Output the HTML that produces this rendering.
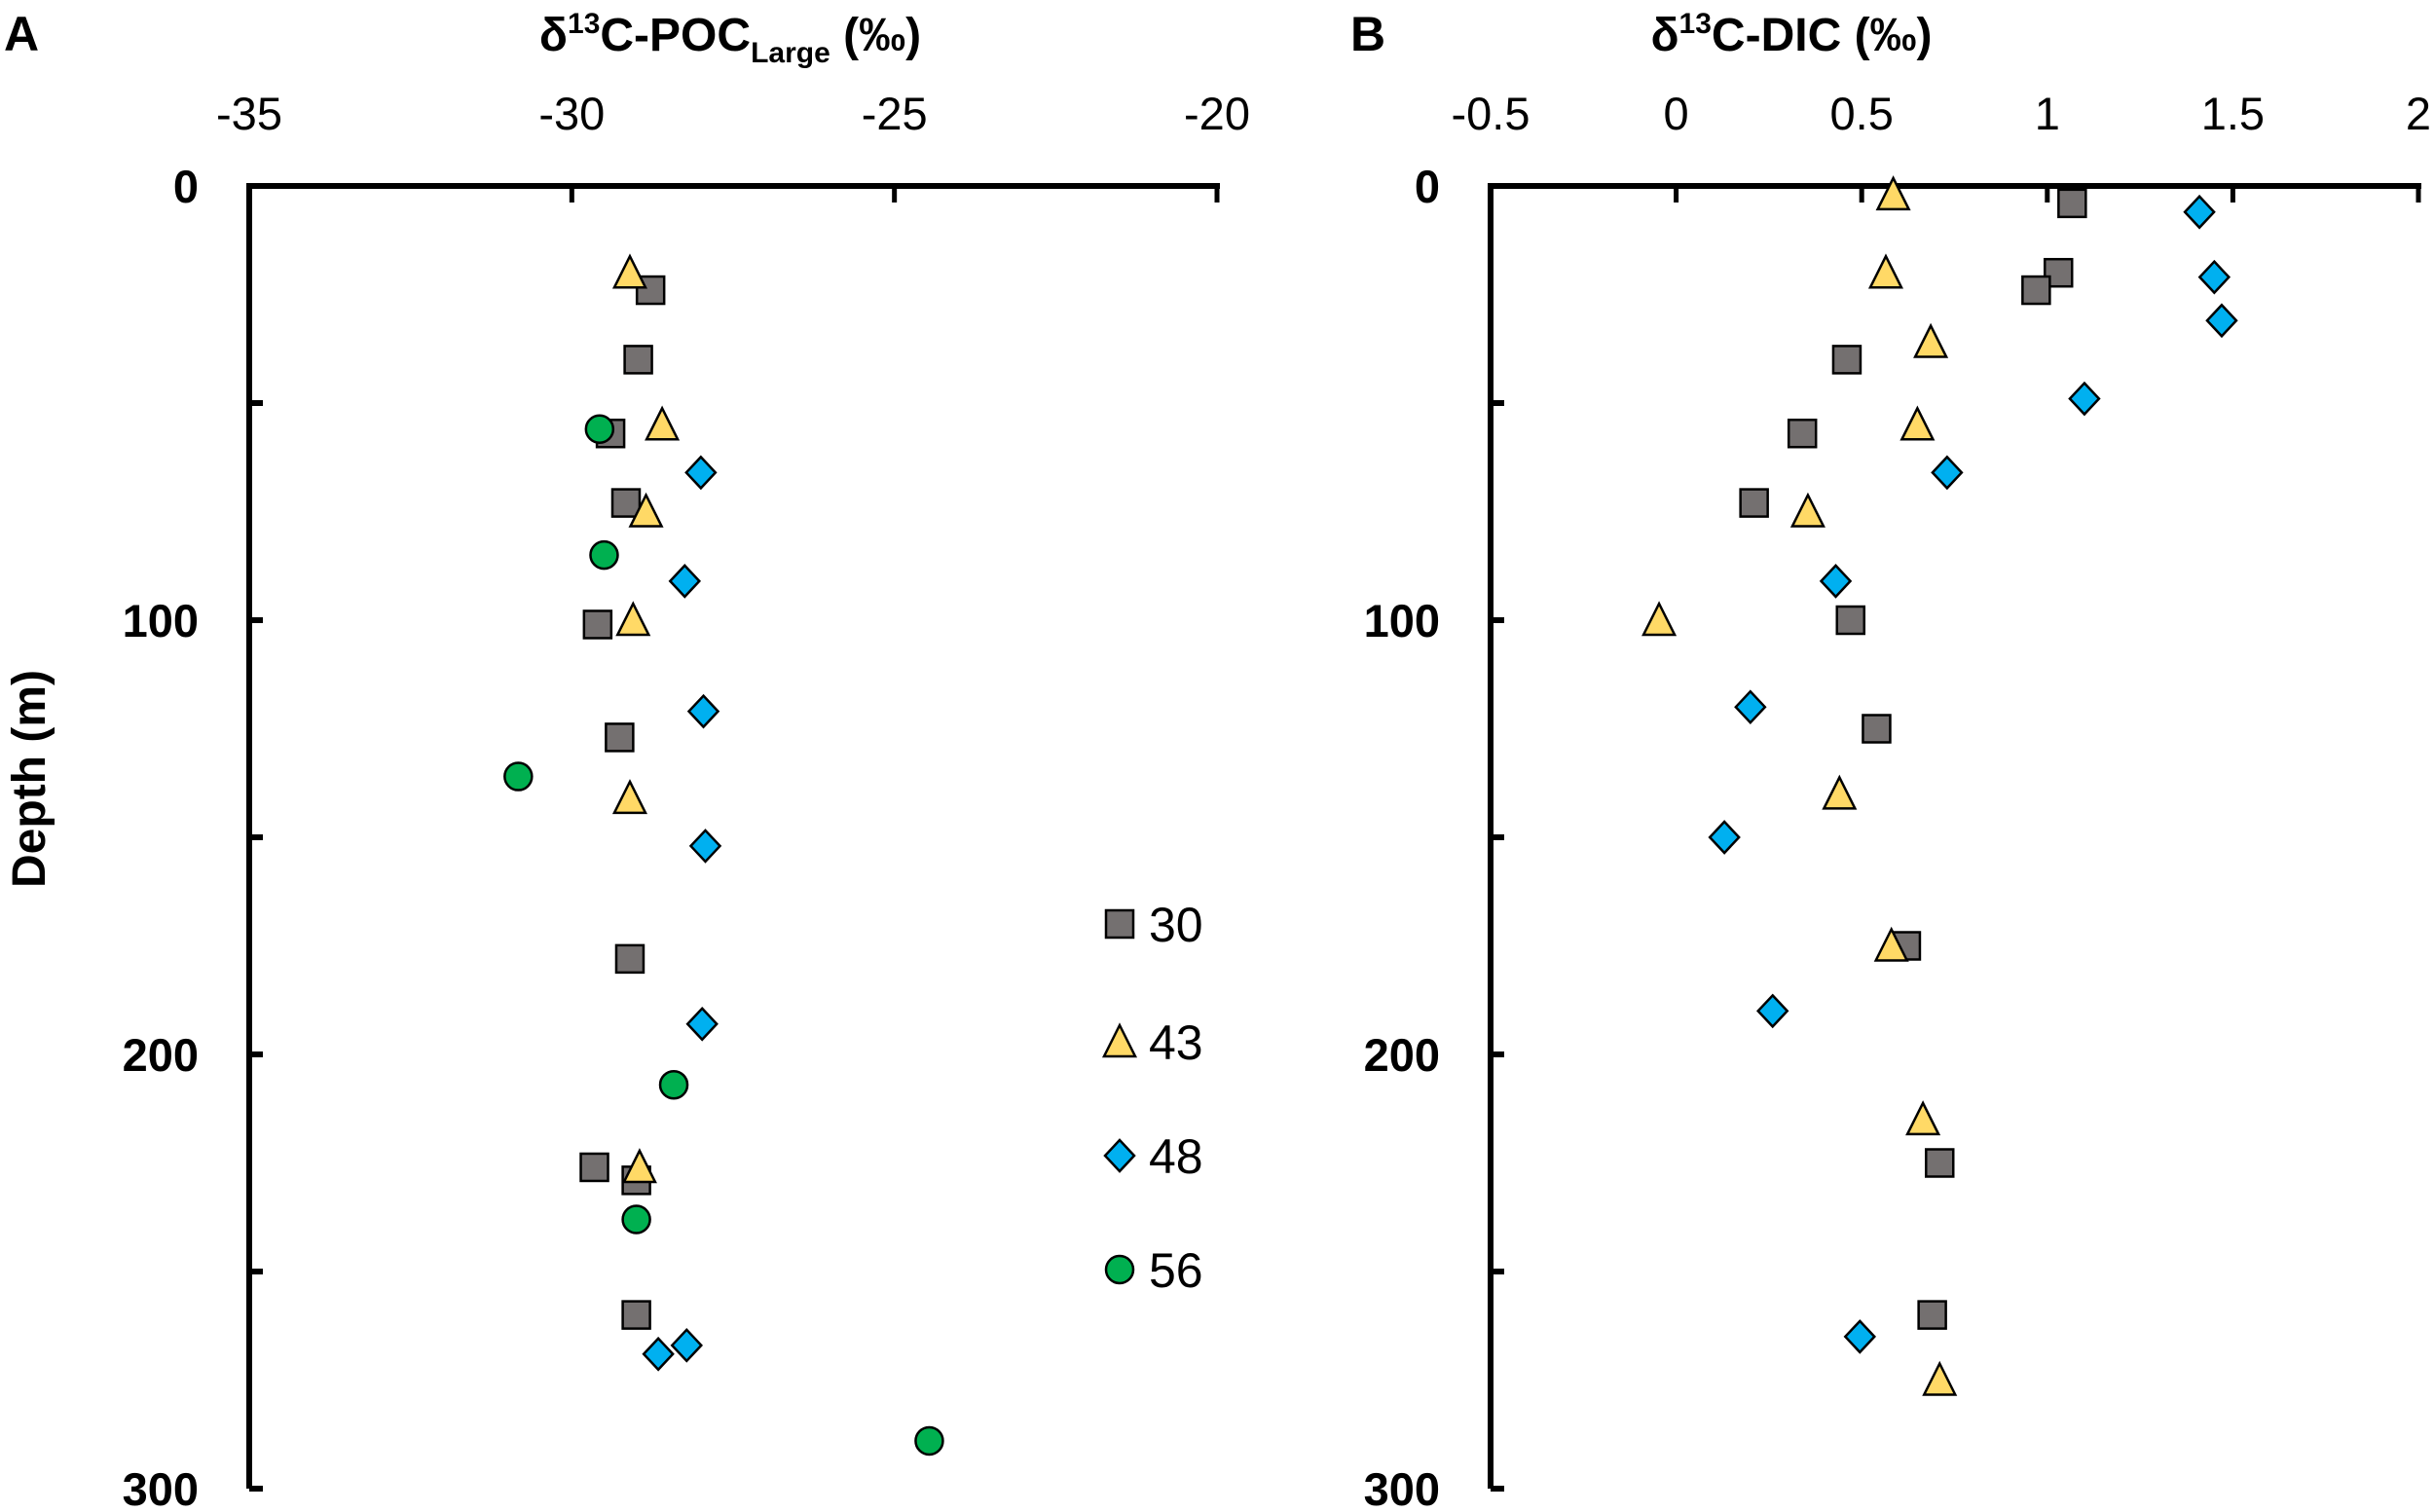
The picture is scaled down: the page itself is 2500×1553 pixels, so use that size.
<!DOCTYPE html>
<html><head><meta charset="utf-8"><style>
html,body{margin:0;padding:0;background:#fff;}
svg{display:block;font-family:"Liberation Sans",sans-serif;}
</style></head><body>
<svg id="chart" width="2500" height="1553" viewBox="0 0 2500 1553" xmlns="http://www.w3.org/2000/svg">
<text x="4" y="52" font-size="50" font-weight="bold">A</text>
<text x="1387" y="52" font-size="50" font-weight="bold">B</text>
<text x="750" y="52" font-size="48" font-weight="bold" text-anchor="middle">δ<tspan font-size="30" dy="-18">13</tspan><tspan dy="18">C-POC</tspan><tspan font-size="30" dy="12">Large</tspan><tspan dy="-12">  (‰)</tspan></text>
<text x="1840" y="52" font-size="48" font-weight="bold" text-anchor="middle">δ<tspan font-size="30" dy="-18">13</tspan><tspan dy="18">C-DIC  (‰)</tspan></text>
<text transform="translate(46,800) rotate(-90)" font-size="48" font-weight="bold" text-anchor="middle">Depth (m)</text>
<g id="gA"></g>
<g id="gB"></g>
<g id="legend"></g>
</svg>
<script>
const stations = ["30","43","48","56"];
// Panel A: δ13C-POC large
const a30x = [-28.78,-28.97,-29.4,-29.16,-29.6,-29.26,-29.1,-29.65,-29.0,-29.0];
const a30d = [24,40,57,73,101,127,178,226,229,260];
const a43x = [-29.1,-28.6,-28.85,-29.05,-29.1,-28.95];
const a43d = [20,55,75,100,141,226];
const a48x = [-28.0,-28.25,-27.96,-27.93,-27.98,-28.22,-28.66];
const a48d = [66,91,121,152,193,267,269];
const a56x = [-29.57,-29.5,-30.83,-28.42,-29.0,-24.46];
const a56d = [56,85,136,207,238,289];
// Panel B: δ13C-DIC
const b30x = [1.067,1.03,0.97,0.46,0.34,0.21,0.47,0.54,0.62,0.71,0.69];
const b30d = [4,20,24,40,57,73,100,125,175,225,260];
const b43x = [0.585,0.565,0.686,0.65,0.355,-0.046,0.44,0.58,0.665,0.71];
const b43d = [2,20,36,55,75,100,140,175,215,275];
const b48x = [1.41,1.45,1.47,1.1,0.73,0.43,0.2,0.13,0.26,0.495];
const b48d = [6,21,31,49,66,91,120,150,190,265];
const aTicks = [-35,-30,-25,-20];
const bTicks = [-0.5,0,0.5,1,1.5,2];
const dTicks = [0,50,100,150,200,250,300];
const dLabels = [0,100,200,300];

const NS="http://www.w3.org/2000/svg";
function mk(tag, attrs, parent){const e=document.createElementNS(NS,tag);for(const k in attrs)e.setAttribute(k,attrs[k]);parent.appendChild(e);return e;}
const colors={"30":"#747070","43":"#ffd966","48":"#00b0f0","56":"#00b050"};
function marker(parent,st,cx,cy){
  let e;const s={fill:colors[st],stroke:"#000","stroke-width":2.5};
  if(st==="30"){e=mk("rect",Object.assign({x:cx-14,y:cy-14,width:28,height:28},s),parent);}
  else if(st==="43"){e=mk("polygon",Object.assign({points:`${cx},${cy-17} ${cx+16},${cy+15} ${cx-16},${cy+15}`},s),parent);}
  else if(st==="48"){e=mk("polygon",Object.assign({points:`${cx},${cy-16} ${cx+15},${cy} ${cx},${cy+16} ${cx-15},${cy}`},s),parent);}
  else {e=mk("circle",Object.assign({cx:cx,cy:cy,r:14},s),parent);}
  return e;
}
const Y0=191, Y1=1529;
const yS=d=>Y0+(Y1-Y0)*d/300;
function panel(g,x0,x1,xmin,xmax,ticks,series,labelRight,name){
  const xS=v=>x0+(x1-x0)*(v-xmin)/(xmax-xmin);
  const ax=mk("line",{x1:x0-3,y1:Y0,x2:x1+3,y2:Y0,stroke:"#000","stroke-width":6},g);
  
  
  const ay=mk("line",{x1:x0,y1:Y0,x2:x0,y2:Y1,stroke:"#000","stroke-width":6},g);
  
  
  ticks.forEach(t=>{
    const x=xS(t);
    mk("line",{x1:x,y1:Y0,x2:x,y2:Y0+17,stroke:"#000","stroke-width":5},g);
    const tx=mk("text",{x:x,y:133,"font-size":47,"text-anchor":"middle"},g);
    tx.textContent=String(t);
    
    
  });
  dTicks.forEach(d=>{
    mk("line",{x1:x0,y1:yS(d),x2:x0+14,y2:yS(d),stroke:"#000","stroke-width":6},g);
  });
  dLabels.forEach(d=>{
    const tx=mk("text",{x:labelRight,y:yS(d)+17,"font-size":47,"font-weight":"bold","text-anchor":"end"},g);
    tx.textContent=String(d);
    
    
  });
  series.forEach(([st,xs,ds])=>{
    xs.forEach((v,i)=>{
      const m=marker(g,st,xS(v),yS(ds[i]));
      
      
    });
  });
}
panel(document.getElementById("gA"),256,1250,-35,-20,aTicks,
  [["30",a30x,a30d],["43",a43x,a43d],["48",a48x,a48d],["56",a56x,a56d]],204,"panel-a");
panel(document.getElementById("gB"),1531,2484,-0.5,2,bTicks,
  [["30",b30x,b30d],["43",b43x,b43d],["48",b48x,b48d]],1479,"panel-b");
const lg=document.getElementById("legend");
const ly=[949,1070,1187,1304];
stations.forEach((st,i)=>{
  const m=marker(lg,st,1150,ly[i]);
  
  
  const t=mk("text",{x:1180,y:ly[i]+18,"font-size":50},lg);
  t.textContent=st;
  
  
});
</script>
</body></html>
